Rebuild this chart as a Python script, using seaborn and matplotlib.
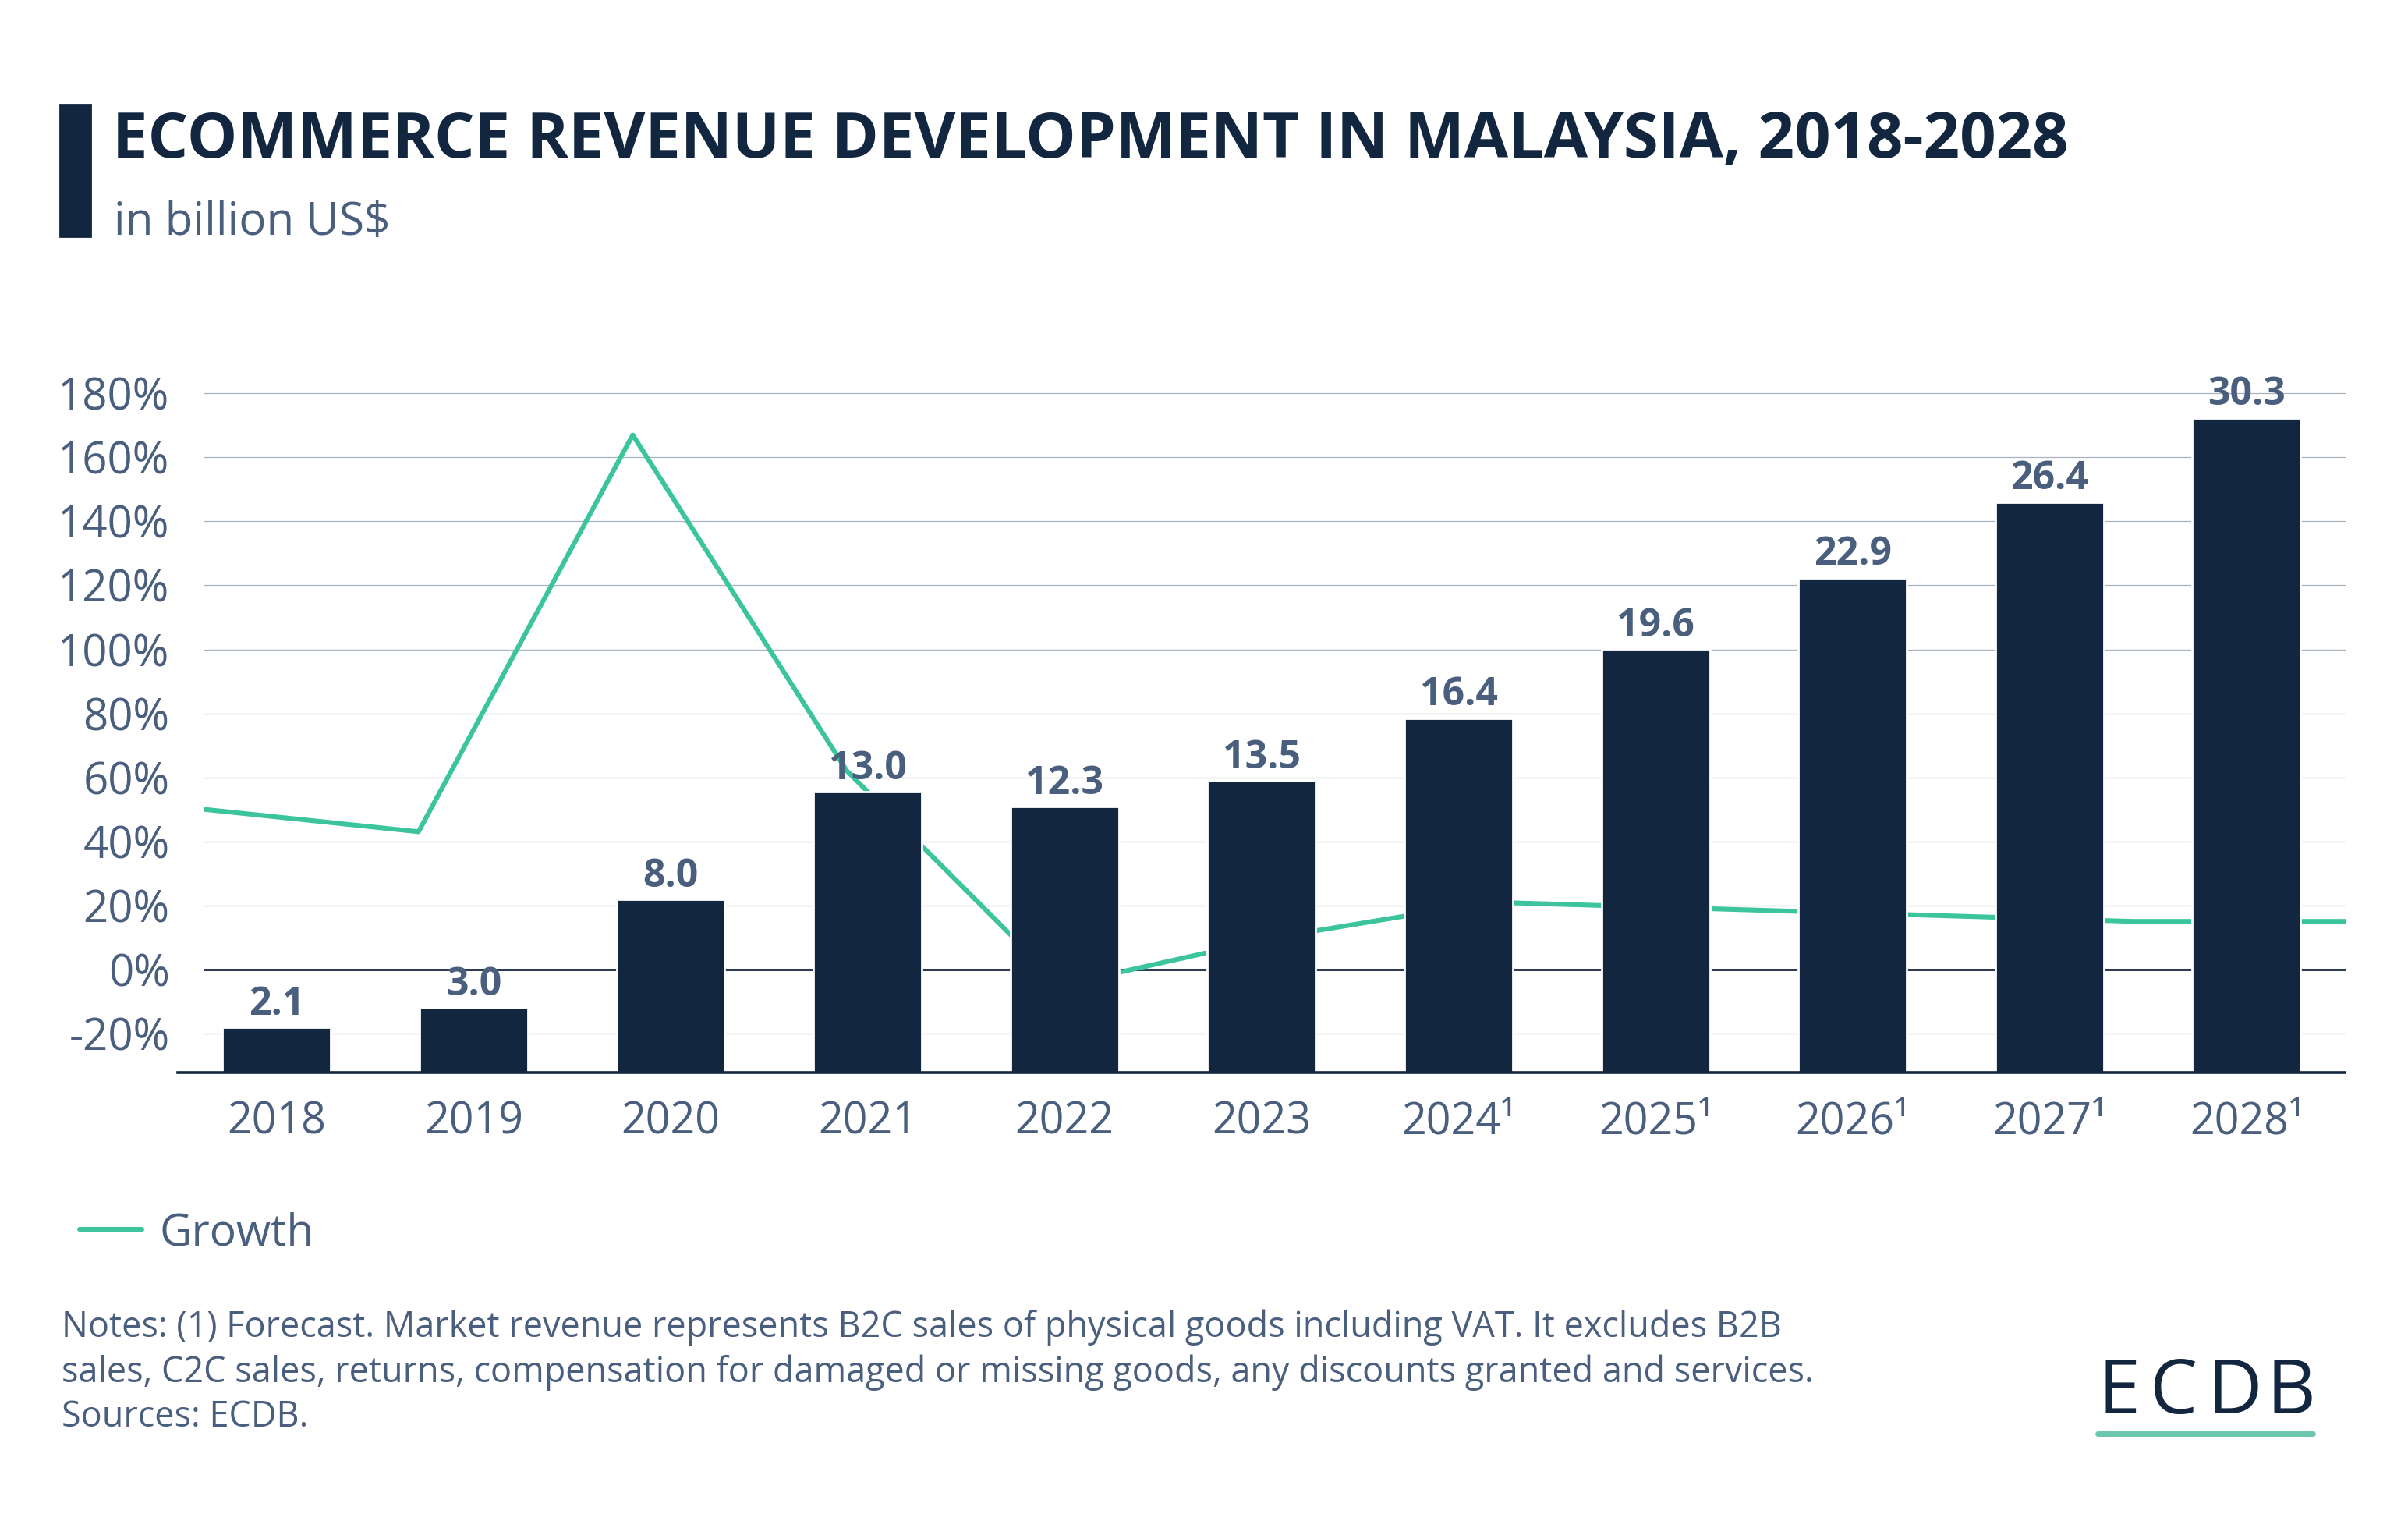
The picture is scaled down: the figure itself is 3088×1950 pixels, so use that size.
import matplotlib.pyplot as plt
import seaborn as sns
import numpy as np
from matplotlib.lines import Line2D
from matplotlib.patches import Rectangle

# Values
years = ["2018", "2019", "2020", "2021", "2022", "2023",
         "2024¹", "2025¹", "2026¹", "2027¹", "2028¹"]
revenue = [2.1, 3.0, 8.0, 13.0, 12.3, 13.5, 16.4, 19.6, 22.9, 26.4, 30.3]
growth = [50, 43, 167, 62, -5, 10, 21, 19, 17, 15, 15]
pct_ticks = [-20, 0, 20, 40, 60, 80, 100, 120, 140, 160, 180]

title = "ECOMMERCE REVENUE DEVELOPMENT IN MALAYSIA, 2018-2028"
subtitle = "in billion US$"
notes = ("Notes: (1) Forecast. Market revenue represents B2C sales of physical goods including VAT. It excludes B2B\n"
         "sales, C2C sales, returns, compensation for damaged or missing goods, any discounts granted and services.\n"
         "Sources: ECDB.")

navy = "#13263f"
teal = "#3cc49c"
slate = "#4a5f7e"
grid_c = "#a8b3c0"

sns.set_theme(style="white")
plt.rcParams["font.family"] = ["Open Sans", "DejaVu Sans"]

fig = plt.figure(figsize=(15.44, 9.75), dpi=200)

# layout measured on a 1568x990 view of the reference
W, H = 1568, 990


def box(x0, x1, y_top, y_bot):
    return [x0 / W, 1 - y_bot / H, (x1 - x0) / W, (y_bot - y_top) / H]


# growth line + grid sit underneath, the bars go on top
ax_line = fig.add_axes(box(133, 1528, 240, 698))
ax_bar = fig.add_axes(box(116, 1527, 240, 698))

sns.lineplot(x=np.arange(len(growth)), y=growth, ax=ax_line, color=teal,
             lw=2.2, label="Growth")
ax_line.set_xlim(0, len(growth) - 1)
ax_line.set_ylim(-32.2, 187.7)
ax_line.set_yticks(pct_ticks)
ax_line.set_yticklabels([f"{t}%" for t in pct_ticks])
ax_line.set_xticks([])
ax_line.yaxis.grid(True, color=grid_c, lw=0.45)
ax_line.axhline(0, color=navy, lw=1.0, zorder=1.5)
ax_line.tick_params(axis="y", length=0, pad=16, labelsize=20.3, labelcolor=slate)
for s in ax_line.spines.values():
    s.set_visible(False)
ax_line.set_xlabel("")
ax_line.set_ylabel("")

ax_line.legend(loc="center left", bbox_to_anchor=(52 / W, 1 - 803 / H),
               bbox_transform=fig.transFigure, frameon=False, fontsize=20.5,
               labelcolor=slate, handlelength=1.4, handletextpad=0.4,
               borderpad=0, borderaxespad=0)

sns.barplot(x=years, y=revenue, color=navy, saturation=1, width=0.55, ax=ax_bar)
ax_bar.patch.set_visible(False)
ax_bar.set_ylim(0, 32.57)
ax_bar.set_yticks([])
ax_bar.set_xlabel("")
ax_bar.set_ylabel("")
for s in ["top", "left", "right"]:
    ax_bar.spines[s].set_visible(False)
ax_bar.spines["bottom"].set_color(navy)
ax_bar.spines["bottom"].set_linewidth(1.3)
ax_bar.tick_params(axis="x", length=0, pad=13, labelsize=20, labelcolor=slate)
ax_bar.bar_label(ax_bar.containers[0], labels=[f"{v:.1f}" for v in revenue],
                 padding=1.5, fontsize=18, fontweight="bold", color=slate)

# header
fig.add_artist(Rectangle((39 / W, 1 - 154 / H), 20 / W, 86 / H,
                         transform=fig.transFigure, color=navy))
fig.text(73 / W, 1 - 92 / H, title, fontsize=29.3, fontweight="bold",
         color=navy, va="center")
fig.text(74 / W, 1 - 145 / H, subtitle, fontsize=21, color=slate, va="center")

# footer
fig.text(40 / W, 1 - 852 / H, notes, fontsize=16.2, color=slate, va="top",
         linespacing=1.32)

# ECDB logo: spaced letters + teal underline
for ch, cx in zip("ECDB", [1380, 1415, 1455, 1492]):
    fig.text(cx / W, 1 - 920 / H, ch, fontsize=35, color=navy,
             ha="center", va="baseline")
fig.add_artist(Line2D([1366 / W, 1506 / W], [1 - 933 / H, 1 - 933 / H],
                      transform=fig.transFigure, color="#6cc6b0", lw=2.5))

fig.savefig("out.png", dpi=200, facecolor="white")
